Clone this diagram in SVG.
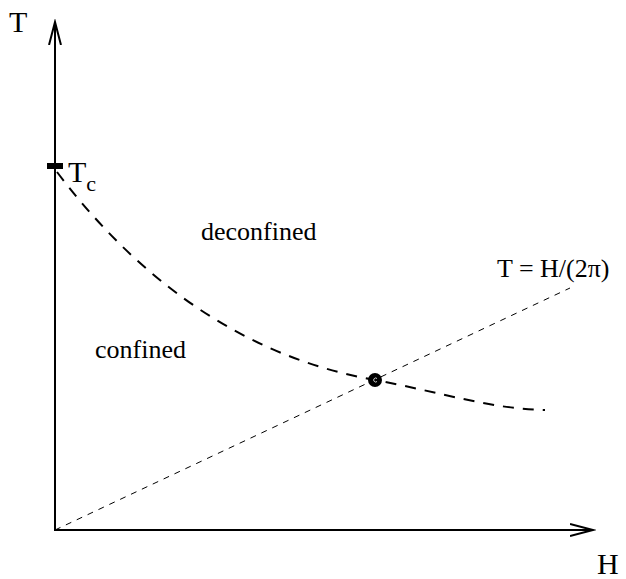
<svg xmlns="http://www.w3.org/2000/svg" width="626" height="579" viewBox="0 0 626 579">
<style>
text{font-family:"Liberation Serif","Times New Roman",serif;fill:#000}
.lbl{font-size:26px}
.ax{font-size:30px}
.axis{stroke:#000;stroke-width:2;fill:none}
</style>
<defs>
<marker id="arr" markerWidth="26" markerHeight="16" refX="23" refY="8" orient="auto" markerUnits="userSpaceOnUse">
<path d="M0,2 L23,8 L0,14" fill="none" stroke="#000" stroke-width="2"/>
</marker>
</defs>
<rect width="626" height="579" fill="#fff"/>
<g id="connectors">
<line class="axis" x1="55" y1="531" x2="55" y2="22" marker-end="url(#arr)"/>
<line class="axis" x1="54" y1="530" x2="593" y2="530" marker-end="url(#arr)"/>
<line x1="55" y1="530" x2="570" y2="288" stroke="#000" stroke-width="1" stroke-dasharray="6,6"/>
<path d="M57,172 C150,295 260,360 375,380 C440,392 490,409 545,410" fill="none" stroke="#000" stroke-width="2" stroke-dasharray="11,9"/>
<line x1="47" y1="166" x2="63" y2="166" stroke="#000" stroke-width="6"/>
</g>
<g id="point">
<circle cx="375" cy="380" r="7" fill="#000"/>
<path d="M377,378.5 A2,2 0 1 0 377,381.5" fill="none" stroke="#fff" stroke-width="0.8"/>
</g>
<g id="labels">
<text class="ax" x="9" y="32">T</text>
<text class="ax" x="597" y="574">H</text>
<text class="ax" x="68" y="182" font-size="29">T<tspan font-size="22" dy="9">c</tspan></text>
<text class="lbl" x="201" y="240">deconfined</text>
<text class="lbl" x="95" y="358">confined</text>
<text class="lbl" x="497" y="277">T = H/(2π)</text>
</g>
</svg>
